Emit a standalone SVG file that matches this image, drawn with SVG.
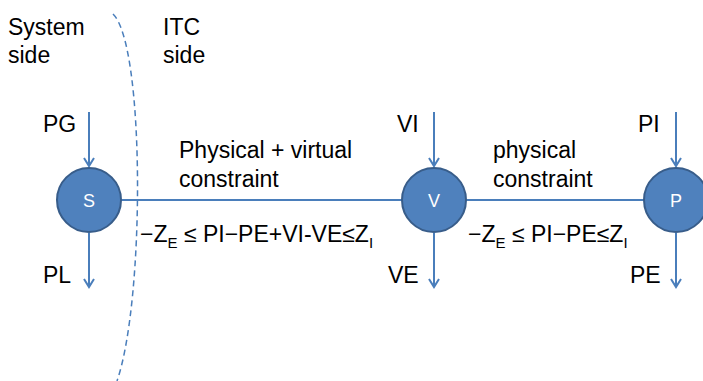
<svg xmlns="http://www.w3.org/2000/svg" width="703" height="381" viewBox="0 0 703 381">
<defs>
<style>
.t{font-family:"Liberation Sans",Arial,sans-serif;font-size:23px;fill:#000}
.n{font-family:"Liberation Sans",Arial,sans-serif;font-size:18px;fill:#fff;text-anchor:middle}
.c{fill:#4F81BD;stroke:#385D8A;stroke-width:2}
.l{stroke:#4A7EBB;stroke-width:2;fill:none}
.s{font-size:15px}
</style>
<marker id="ah" viewBox="0 0 12 12" refX="10" refY="6" markerWidth="12" markerHeight="12" markerUnits="userSpaceOnUse" orient="auto">
<path d="M2,1 L10,6 L2,11" fill="none" stroke="#4A7EBB" stroke-width="2"/>
</marker>
</defs>
<rect width="703" height="381" fill="#fff"/>
<path d="M113,14 C145,45 145,300 117,381" fill="none" stroke="#4A7EBB" stroke-width="1.5" stroke-dasharray="6,4"/>
<text class="t" x="8" y="35">System</text>
<text class="t" x="8" y="63">side</text>
<text class="t" x="163" y="35">ITC</text>
<text class="t" x="163" y="63">side</text>
<g id="connectors">
<line class="l" x1="89" y1="112" x2="89" y2="166" marker-end="url(#ah)"/>
<line class="l" x1="89" y1="233" x2="89" y2="287" marker-end="url(#ah)"/>
<line class="l" x1="434" y1="112" x2="434" y2="166" marker-end="url(#ah)"/>
<line class="l" x1="434" y1="233" x2="434" y2="287" marker-end="url(#ah)"/>
<line class="l" x1="676" y1="112" x2="676" y2="166" marker-end="url(#ah)"/>
<line class="l" x1="676" y1="233" x2="676" y2="287" marker-end="url(#ah)"/>
<line class="l" x1="121" y1="200" x2="402" y2="200"/>
<line class="l" x1="466" y1="200" x2="644" y2="200"/>
</g>
<g id="node-S">
<circle class="c" cx="89" cy="200" r="32"/>
<text class="n" x="89" y="207">S</text>
</g>
<g id="node-V">
<circle class="c" cx="434" cy="200" r="32"/>
<text class="n" x="434" y="207">V</text>
</g>
<g id="node-P">
<circle class="c" cx="676" cy="200" r="32"/>
<text class="n" x="676" y="207">P</text>
</g>
<text class="t" x="43" y="132">PG</text>
<text class="t" x="43" y="283">PL</text>
<text class="t" x="397" y="132">VI</text>
<text class="t" x="388" y="283">VE</text>
<text class="t" x="638" y="132">PI</text>
<text class="t" x="630" y="283">PE</text>
<text class="t" x="179" y="158">Physical + virtual</text>
<text class="t" x="179" y="187">constraint</text>
<text class="t" x="493" y="158">physical</text>
<text class="t" x="493" y="187">constraint</text>
<text class="t" x="140" y="242">−Z<tspan class="s" dy="6">E</tspan><tspan dy="-6"> ≤ PI−PE+VI-VE≤Z</tspan><tspan class="s" dy="6">I</tspan></text>
<text class="t" x="468" y="242">−Z<tspan class="s" dy="6">E</tspan><tspan dy="-6"> ≤ PI−PE≤Z</tspan><tspan class="s" dy="6">I</tspan></text>
</svg>
